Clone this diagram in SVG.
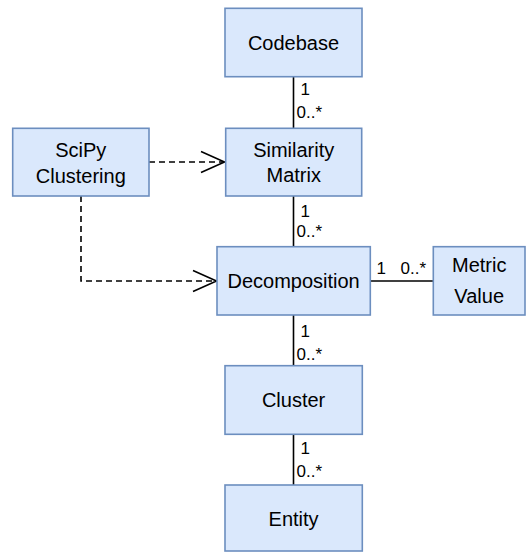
<svg xmlns="http://www.w3.org/2000/svg" width="526" height="552" viewBox="0 0 526 552">
  <style>
    .box { fill: #dae8fc; stroke: #6c8ebf; stroke-width: 1.6; }
    .name { font-family: "Liberation Sans", Arial, sans-serif; font-size: 20px; fill: #000; text-anchor: middle; }
    .mult { font-family: "Liberation Sans", Arial, sans-serif; font-size: 17px; fill: #000; }
    .assoc { stroke: #000; stroke-width: 1.6; fill: none; }
    .dep { stroke: #000; stroke-width: 1.6; fill: none; stroke-dasharray: 6 4; }
    .head { stroke: #000; stroke-width: 1.6; fill: none; }
  </style>
  <rect width="526" height="552" fill="#ffffff"/>

  <g id="connectors">
    <!-- associations -->
    <line class="assoc" x1="293.5" y1="76.7" x2="293.5" y2="128.3"/>
    <line class="assoc" x1="293.5" y1="196" x2="293.5" y2="246.7"/>
    <line class="assoc" x1="370.3" y1="281" x2="433.3" y2="281"/>
    <line class="assoc" x1="293.5" y1="315" x2="293.5" y2="365.7"/>
    <line class="assoc" x1="293.5" y1="434.3" x2="293.5" y2="485"/>
    <!-- dependencies -->
    <line class="dep" x1="149" y1="162" x2="224" y2="162"/>
    <polyline class="head" points="201,151.5 224.5,162 201,172.5"/>
    <polyline class="dep" points="81,196 81,281 215,281"/>
    <polyline class="head" points="193,270.5 216.5,281 193,291.5"/>
    <!-- multiplicities -->
    <text class="mult" x="300.5" y="94.5">1</text>
    <text class="mult" x="296.5" y="117.5">0..*</text>
    <text class="mult" x="300.5" y="216.7">1</text>
    <text class="mult" x="296.5" y="237">0..*</text>
    <text class="mult" x="376.5" y="274.3">1</text>
    <text class="mult" x="400.5" y="274.3">0..*</text>
    <text class="mult" x="300.5" y="336.7">1</text>
    <text class="mult" x="296.5" y="360">0..*</text>
    <text class="mult" x="300.5" y="454.3">1</text>
    <text class="mult" x="296.5" y="476.7">0..*</text>
  </g>

  <g id="codebase">
    <rect class="box" x="225" y="8.3" width="137" height="68.4"/>
    <text class="name" x="293.5" y="49.5">Codebase</text>
  </g>
  <g id="similarity-matrix">
    <rect class="box" x="225.7" y="128.3" width="136" height="67.7"/>
    <text class="name" x="293.7" y="156.7">Similarity</text>
    <text class="name" x="293.7" y="181.7">Matrix</text>
  </g>
  <g id="scipy-clustering">
    <rect class="box" x="12.7" y="128.3" width="136.3" height="67.7"/>
    <text class="name" x="80.8" y="156.5">SciPy</text>
    <text class="name" x="80.8" y="182.5">Clustering</text>
  </g>
  <g id="decomposition">
    <rect class="box" x="217" y="246.7" width="153.3" height="68.3"/>
    <text class="name" x="293.6" y="287.5">Decomposition</text>
  </g>
  <g id="metric-value">
    <rect class="box" x="433.3" y="246.7" width="91.7" height="68.3"/>
    <text class="name" x="479.2" y="271.7">Metric</text>
    <text class="name" x="479.2" y="302.7">Value</text>
  </g>
  <g id="cluster">
    <rect class="box" x="225" y="365.7" width="137.3" height="68.6"/>
    <text class="name" x="293.6" y="406.5">Cluster</text>
  </g>
  <g id="entity">
    <rect class="box" x="225" y="485" width="137.3" height="66"/>
    <text class="name" x="293.6" y="525.7">Entity</text>
  </g>
</svg>
